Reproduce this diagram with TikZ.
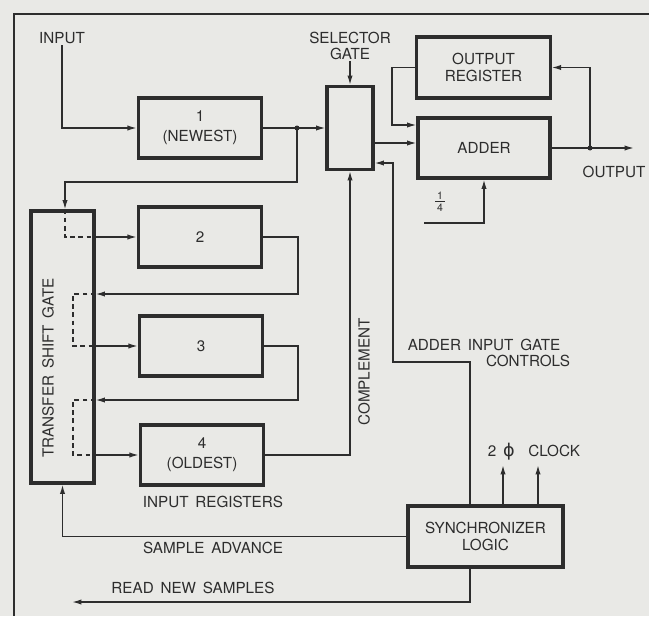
\documentclass[tikz,border=0pt]{standalone}
\usepackage{fontspec}
\setmainfont[WordSpace=1.6]{TeX Gyre Heros}
\newfontfamily\phifont{DejaVu Sans}
\usetikzlibrary{arrows.meta,calc}
\definecolor{paper}{RGB}{233,233,230}
\definecolor{ink}{RGB}{45,45,45}
\tikzset{
  blk/.style={draw=ink,line width=2.6pt,inner sep=0pt,align=center,text=ink,font=\fontsize{13}{15}\selectfont},
  reg/.style={blk,minimum width=3.7cm,minimum height=1.8cm},
  lbl/.style={text=ink,inner sep=1pt,align=center},
  wire/.style={draw=ink,line width=1.2pt},
  arr/.style={wire,-{Latex[length=8pt,width=4.5pt]}},
  dashwire/.style={wire,dash pattern=on 4pt off 3pt}
}
\begin{document}
\begin{tikzpicture}[x=0.03cm,y=-0.03cm,font=\fontsize{13}{13}\selectfont]
\fill[paper] (0,0) rectangle (649,616);
\useasboundingbox (0,0) rectangle (649,616);
\draw[wire] (649,14) -- (14,14) -- (14,616);
\node[reg] (b1) at (200,128) {1\\[2pt](NEWEST)};
\node[reg] (b2) at (200,237) {2};
\node[reg] (b3) at (201,346) {3};
\node[reg] (b4) at (202,455) {4\\[2pt](OLDEST)};
\node[blk,minimum width=1.89cm,minimum height=8.16cm] (tsg) at (62.5,347) {};
\node[lbl,rotate=90] (tsglbl) at (48,368) {TRANSFER SHIFT GATE};
\node[blk,minimum width=1.38cm,minimum height=2.49cm] (sel) at (350,128) {};
\node[blk,minimum width=4cm,minimum height=1.83cm] (oreg) at (483.5,67.5) {OUTPUT\\REGISTER};
\node[blk,minimum width=3.96cm,minimum height=1.8cm] (add) at (484,148) {ADDER};
\node[blk,minimum width=4.65cm,minimum height=1.83cm] (sync) at (485.5,536.5) {SYNCHRONIZER\\LOGIC};
\node[lbl] (inlbl) at (62,38) {INPUT};
\node[lbl] (sellbl) at (350,46) {SELECTOR\\GATE};
\node[lbl] (outlbl) at (614,172) {OUTPUT};
\node[lbl,font=\fontsize{9}{10}\selectfont] (quarter) at (440,202) {\underline{\,1\,}\\4};
\node[lbl] (reglbl) at (213,502) {INPUT REGISTERS};
\node[lbl] (advlbl) at (213,548) {SAMPLE ADVANCE};
\node[lbl] (readlbl) at (193,588) {READ NEW SAMPLES};
\node[lbl,rotate=90] (cmpllbl) at (364,372) {COMPLEMENT};
\node[lbl] (ctllbl) at (484,345) {ADDER INPUT GATE};
\node[lbl] (ctllbl2) at (528,361) {CONTROLS};
\node[lbl] (clklbl) at (534,452) {2 {\phifont\fontsize{15}{15}\selectfont ϕ}\ \ CLOCK};
\coordinate (j1) at (297,128); \coordinate (t1) at (65,182);
\coordinate (r2) at (298,294); \coordinate (k2) at (73,294);
\coordinate (r3) at (298,400); \coordinate (k3) at (73,400);
\coordinate (s1) at ([yshift=-0.45cm]sel.east);
\coordinate (g1) at (470,362); \coordinate (g2) at (393,163);
\coordinate (o1) at (392,125); \coordinate (j2) at (590,148); \coordinate (oe) at (634,148);
\coordinate (q1) at (424,223); \coordinate (rd) at (72,602);
\coordinate (ck1) at (503,465); \coordinate (ck2) at (538,465);
\draw[arr] (inlbl) |- (b1);
\draw[arr] (b1) -- (sel);
\draw[arr] (j1) |- (t1) -- (t1 |- tsg.north);
\draw[dashwire] (t1 |- tsg.north) |- (tsg.east |- b2);
\draw[arr] (tsg.east |- b2) -- (b2);
\draw[arr] (b2) -| (r2) -- (r2 -| tsg.east);
\draw[dashwire] (k2 -| tsg.east) -- (k2) |- (tsg.east |- b3);
\draw[arr] (tsg.east |- b3) -- (b3);
\draw[arr] (b3) -| (r3) -- (r3 -| tsg.east);
\draw[dashwire] (k3 -| tsg.east) -- (k3) |- (tsg.east |- b4);
\draw[arr] (tsg.east |- b4) -- (b4);
\draw[arr] (b4) -| (sel);
\draw[arr] (sellbl) -- (sel);
\draw[arr] (s1) -- (s1 -| add.west);
\draw[arr] (g1 |- sync.north) -- (g1) -| (g2) -- (g2 -| sel.east);
\draw[arr] (oreg) -| (o1) -- (o1 -| add.west);
\draw[arr] (add) -- (oe);
\draw[arr] (j2) |- (oreg);
\draw[arr] (q1) -| (add);
\draw[arr] (sync) -| (tsg);
\draw[arr] (g1 |- sync.south) |- (rd);
\foreach \k in {ck1,ck2}{\draw[arr] (\k |- sync.north) -- (\k);}
\fill[ink] (j1) circle (2.5) (j2) circle (2.5);
\end{tikzpicture}
\end{document}
